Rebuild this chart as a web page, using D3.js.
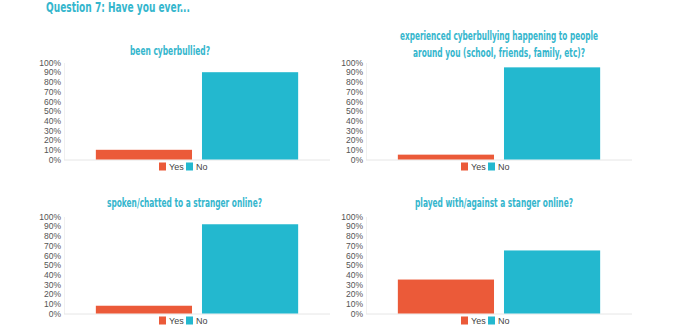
<!DOCTYPE html>
<html><head><meta charset="utf-8">
<script src="https://cdn.jsdelivr.net/npm/d3@7"></script>
<style>body{margin:0;background:#fff}svg{display:block}</style>
</head><body>
<svg id="c" width="680" height="330"></svg>
<script>
// ---- data ----
const mainTitle = "Question 7: Have you ever...";
const categories = ["Yes", "No"];
const questions = [
  ["been cyberbullied?"],
  ["experienced cyberbullying happening to people", "around you (school, friends, family, etc)?"],
  ["spoken/chatted to a stranger online?"],
  ["played with/against a stanger online?"]
];
const yesValues = [10, 5, 8, 35];
const noValues = [90, 95, 92, 65];
const tickValues = [0, 10, 20, 30, 40, 50, 60, 70, 80, 90, 100];

// ---- layout ----
const colors = {Yes: "#EB5A39", No: "#23B8CF"};
const teal = "#35B6CD";
const plotW = 266, plotH = 97;
const panels = [
  {x: 64, top: 62.5, titleCx: 170, titleY: [55], titleW: [80]},
  {x: 366, top: 62.5, titleCx: 499, titleY: [40, 57], titleW: [198, 172]},
  {x: 64, top: 216.5, titleCx: 184.5, titleY: [207], titleW: [155]},
  {x: 366, top: 216.5, titleCx: 494, titleY: [207], titleW: [158]}
];

const svg = d3.select("#c");
const titleFont = "'DejaVu Sans Condensed','Liberation Sans Narrow',sans-serif";

svg.append("text").attr("x", 46).attr("y", 12)
  .attr("font-family", titleFont).attr("font-size", 14).attr("font-weight", "bold")
  .attr("fill", teal).attr("textLength", 144).attr("lengthAdjust", "spacingAndGlyphs")
  .text(mainTitle);

const x = d3.scaleBand().domain(categories).range([0, plotW]).paddingInner(0.094).paddingOuter(0.30);
const y = d3.scaleLinear().domain([0, 100]).range([plotH, 0]);

panels.forEach((p, i) => {
  const g = svg.append("g").attr("transform", `translate(${p.x},${p.top})`);
  const vals = [{c: "Yes", v: yesValues[i]}, {c: "No", v: noValues[i]}];

  // title
  questions[i].forEach((line, j) => {
    svg.append("text").attr("x", p.titleCx).attr("y", p.titleY[j])
      .attr("text-anchor", "middle").attr("font-family", titleFont)
      .attr("font-size", 12).attr("font-weight", "bold").attr("fill", teal)
      .attr("textLength", p.titleW[j]).attr("lengthAdjust", "spacingAndGlyphs")
      .text(line);
  });

  // axes
  const ya = g.append("g").call(d3.axisLeft(y).tickValues(tickValues).tickSize(0).tickPadding(3).tickFormat(d => d + "%"));
  ya.select(".domain").attr("stroke", "#f0f0f0");
  ya.selectAll("text").attr("font-family", "'Liberation Sans',Arial,sans-serif").attr("font-size", 8.5).attr("fill", "#555");
  g.append("line").attr("x1", 0).attr("x2", plotW).attr("y1", plotH + 0.5).attr("y2", plotH + 0.5)
    .attr("stroke", "#e6e6e6");

  // bars
  g.selectAll("rect.bar").data(vals).join("rect").attr("class", "bar")
    .attr("x", d => x(d.c)).attr("width", x.bandwidth())
    .attr("y", d => y(d.v)).attr("height", d => y(0) - y(d.v))
    .attr("fill", d => colors[d.c]);

  // legend
  const lg = g.append("g").attr("transform", `translate(95,${plotH + 3})`);
  const offs = [0, 27];
  categories.forEach((c, k) => {
    lg.append("rect").attr("x", offs[k]).attr("y", 0).attr("width", 7).attr("height", 8).attr("fill", colors[c]);
    lg.append("text").attr("x", offs[k] + 10).attr("y", 7.5)
      .attr("font-family", "'Liberation Sans',Arial,sans-serif").attr("font-size", 9).attr("fill", "#444")
      .text(c);
  });
});
</script>
</body></html>
